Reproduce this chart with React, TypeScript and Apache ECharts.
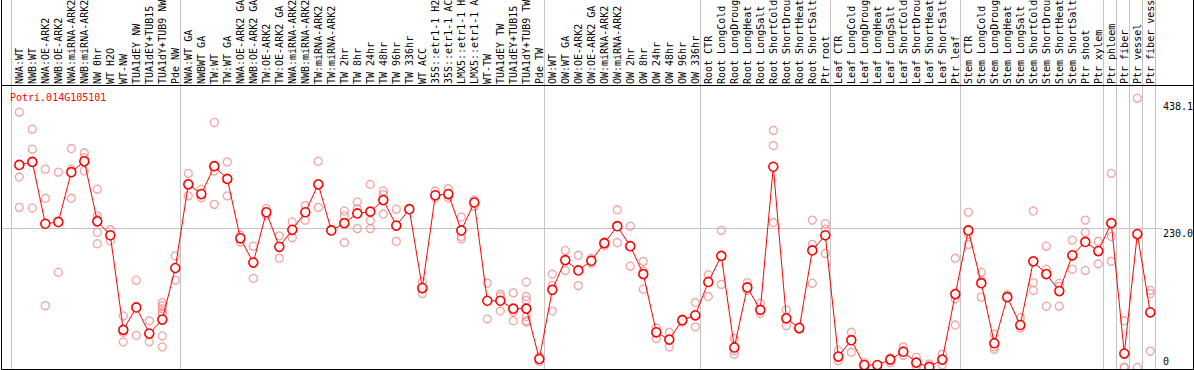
import React, { useEffect, useRef } from "react";
import * as echarts from "echarts";

const geneId = "Potri.014G105101";

const categories: string[] = [
  "NWA:WT", "NWB:WT", "NWA:OE-ARK2", "NWB:OE-ARK2", "NWA:miRNA-ARK2", "NWB:miRNA-ARK2",
  "NW 0hr", "WT H2O", "WT-NW", "TUA1dEY NW", "TUA1dEY+TUB15 NW", "TUA1dY+TUB9 NW", "Pde NW",
  "NWA:WT GA", "NWBWT GA", "TW:WT", "TW:WT GA", "NWA:OE-ARK2 GA", "NWB:OE-ARK2 GA",
  "TW:OE-ARK2", "TW:OE-ARK2 GA", "NWA:miRNA-ARK2 GA", "NWB:miRNA-ARK2 GA", "TW:miRNA-ARK2",
  "TW:miRNA-ARK2 GA", "TW 2hr", "TW 8hr", "TW 24hr", "TW 48hr", "TW 96hr", "TW 336hr", "WT ACC",
  "35S::etr1-1 H2O", "35S::etr1-1 ACC", "LMX5::etr1-1 H2O", "LMX5::etr1-1 ACC", "WT-TW",
  "TUA1dEY TW", "TUA1dEY+TUB15 TW", "TUA1dY+TUB9 TW", "Pde TW",
  "OW:WT", "OW:WT GA", "OW:OE-ARK2", "OW:OE-ARK2 GA", "OW:miRNA-ARK2", "OW:miRNA-ARK2 GA",
  "OW 2hr", "OW 8hr", "OW 24hr", "OW 48hr", "OW 96hr", "OW 336hr",
  "Root CTR", "Root LongCold", "Root LongDrought", "Root LongHeat", "Root LongSalt",
  "Root ShortCold", "Root ShortDrought", "Root ShortHeat", "Root ShortSalt", "Ptr root",
  "Leaf CTR", "Leaf LongCold", "Leaf LongDrought", "Leaf LongHeat", "Leaf LongSalt",
  "Leaf ShortCold", "Leaf ShortDrought", "Leaf ShortHeat", "Leaf ShortSalt", "Ptr leaf",
  "Stem CTR", "Stem LongCold", "Stem LongDrought", "Stem LongHeat", "Stem LongSalt",
  "Stem ShortCold", "Stem ShortDrought", "Stem ShortHeat", "Stem ShortSalt", "Ptr shoot",
  "Ptr xylem", "Ptr phloem", "Ptr fiber", "Ptr vessel", "Ptr fiber vessel",
];

const means: number[] = [
  334, 339, 237, 240, 322, 340, 241, 218, 62, 99, 56, 79, 164,
  302, 286, 332, 311, 213, 173, 256, 199, 227, 256, 302, 226, 238, 254, 257, 276, 234, 261,
  131, 284, 286, 226, 272, 110, 110, 97, 97, 14,
  128, 177, 160, 176, 205, 233, 200, 154, 58, 46, 78, 86,
  141, 184, 33, 132, 95, 331, 81, 65, 193, 218,
  18, 45, 4, 4, 13, 26, 8, 1, 13, 121,
  226, 139, 40, 116, 70, 175, 154, 126, 185, 207, 192,
  238, 23, 220, 91,
];

const replicates: number[][] = [
  [421, 314, 264], [393, 360, 263], [327, 279, 102], [322, 157], [361, 327, 279],
  [354, 346, 341, 324], [294, 250, 244, 223, 204], [227, 209], [85, 58, 42], [144, 53],
  [77, 54, 42], [107, 102, 97, 92, 88, 52, 34], [184, 144],
  [320, 283], [294, 280], [404, 324, 269], [339, 283], [218, 207], [200, 147], [262, 251],
  [217, 180], [240, 214], [267, 243], [340, 264], [228, 225], [258, 250, 206], [273, 262, 229],
  [302, 242, 229], [291, 285, 253], [261, 208], [262, 260], [141, 122], [291, 280], [295, 280],
  [248, 216, 212], [276, 266], [139, 80], [121, 117, 93], [123, 92, 77],
  [141, 117, 111, 84, 77, 75], [18, 14, 10],
  [154, 135, 93], [193, 160], [185, 135], [180, 172], [207, 201], [260, 206], [233, 167],
  [175, 159, 129], [65, 48], [58, 34], [80, 75], [107, 67],
  [153, 117], [226, 137], [48, 28, 22], [140, 127], [106, 89], [391, 366, 239], [95, 69],
  [67, 63], [243, 203, 139], [237, 228, 188],
  [28, 11], [58, 25], [8, 1], [4, 3], [16, 8], [34, 20], [17, 2], [6, 0], [22, 4], [180, 113, 70],
  [256, 220, 203], [157, 144, 116], [55, 34, 30], [120, 117], [82, 65], [258, 140, 127],
  [200, 162, 101], [139, 134, 101], [210, 162], [243, 223, 160], [208, 171],
  [320, 216, 175], [77, 0, 0], [444, 0], [127, 122, 27],
];

// index of the first category in each group; the last entry closes the final group
const groupStarts: number[] = [0, 13, 41, 53, 63, 73, 84, 85, 86, 87, 88];

const yTickValues: number[] = [0, 230, 438.1];
const yTickLabels: string[] = ["0", "230.0", "438.1"];
const yGridValues: number[] = [230];

const FONT = '"DejaVu Sans Mono", "Liberation Mono", monospace';

export default function App() {
  const ref = useRef<HTMLDivElement>(null);

  useEffect(() => {
    const el = ref.current;
    if (!el) return;
    const chart = echarts.init(el, null, { renderer: "svg" });

    const repData: number[][] = [];
    replicates.forEach((arr, i) => arr.forEach((v) => repData.push([i, v])));

    chart.setOption({
      animation: false,
      title: {
        text: geneId,
        left: 10,
        top: 92,
        padding: 0,
        textStyle: { color: "#ff0000", fontFamily: FONT, fontSize: 10, fontWeight: "normal" },
      },
      grid: {
        left: 12.8,
        top: 85,
        width: 1144,
        height: 284,
        containLabel: false,
        outerBoundsMode: "none",
      },
      xAxis: {
        type: "category",
        position: "top",
        data: categories,
        boundaryGap: true,
        axisLine: { show: false },
        axisTick: { show: false },
        splitLine: { show: false },
        axisLabel: {
          interval: 0,
          rotate: 90,
          margin: 1,
          hideOverlap: false,
          fontFamily: FONT,
          fontSize: 10,
          color: "#000",
          width: 87,
          overflow: "truncate",
          ellipsis: "",
        },
      },
      yAxis: { type: "value", min: -2.5, max: 465.8, show: false },
      series: [
        {
          type: "scatter",
          data: repData,
          symbol: "circle",
          symbolSize: 8,
          itemStyle: { color: "rgba(0,0,0,0)", borderColor: "#ee8e8e", borderWidth: 1.3 },
          z: 2,
          clip: false,
        },
        {
          type: "line",
          data: means,
          symbol: "circle",
          symbolSize: 9,
          showAllSymbol: true,
          lineStyle: { color: "#ff0000", width: 1 },
          itemStyle: { color: "#ffffff", borderColor: "#ff0000", borderWidth: 1.6 },
          z: 3,
        },
      ],
    });

    const px = (i: number) => chart.convertToPixel({ xAxisIndex: 0 }, i) as number;
    const py = (v: number) => chart.convertToPixel({ yAxisIndex: 0 }, v) as number;
    const band = px(1) - px(0);
    const catX = (i: number) =>
      i < categories.length ? px(i) : px(categories.length - 1) + band * (i - categories.length + 1);

    const graphics: any[] = [];
    const gray = "#c4c4c4";
    groupStarts.forEach((g) => {
      const x = Math.round(catX(g) - 8) + 0.5;
      graphics.push({
        type: "line",
        shape: { x1: x, y1: 0, x2: x, y2: 369 },
        style: { stroke: gray, lineWidth: 1 },
        z: 0,
        silent: true,
      });
    });
    yGridValues.forEach((v) => {
      const y = Math.round(py(v)) + 0.5;
      graphics.push({
        type: "line",
        shape: { x1: 1, y1: y, x2: 1162, y2: y },
        style: { stroke: gray, lineWidth: 1 },
        z: 0,
        silent: true,
      });
    });
    yTickValues.forEach((v, k) => {
      const y = py(v);
      graphics.push({
        type: "text",
        x: 1163,
        y: v === 0 ? y - 1 : y,
        style: {
          text: yTickLabels[k],
          fill: "#000",
          font: `10px ${FONT}`,
          align: "left",
          verticalAlign: v === 0 ? "bottom" : "top",
        },
        z: 5,
        silent: true,
      });
    });
    const frame = [
      { x1: 1.5, y1: 0, x2: 1.5, y2: 370 },
      { x1: 1193.5, y1: 0, x2: 1193.5, y2: 370 },
      { x1: 1, y1: 85.5, x2: 1194, y2: 85.5 },
      { x1: 1, y1: 369.5, x2: 1194, y2: 369.5 },
    ];
    frame.forEach((s) =>
      graphics.push({ type: "line", shape: s, style: { stroke: "#000", lineWidth: 1 }, z: 100, silent: true })
    );

    chart.setOption({ graphic: graphics });

    return () => {
      chart.dispose();
    };
  }, []);

  return (
    <div
      ref={ref}
      style={{ position: "absolute", left: 0, top: 0, width: 1194, height: 370, background: "#fff" }}
    />
  );
}
